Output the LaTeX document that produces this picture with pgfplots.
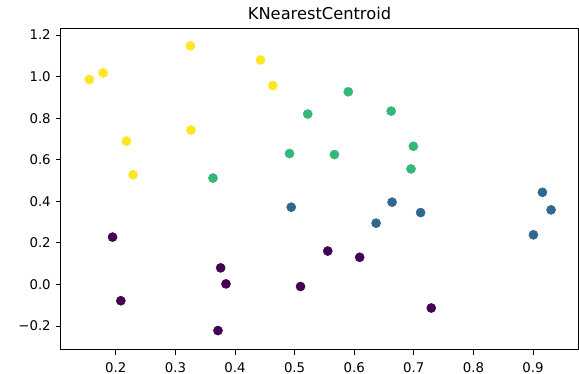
\documentclass[border=0pt]{standalone}
\usepackage{fontspec}
\setmainfont{DejaVu Sans}
\usepackage{pgfplots}
\pgfplotsset{compat=1.18}
\definecolor{vpurple}{HTML}{440154}
\definecolor{vblue}{HTML}{31688E}
\definecolor{vgreen}{HTML}{35B779}
\definecolor{vyellow}{HTML}{FDE725}
\begin{document}
\begin{tikzpicture}
\begin{axis}[
  scale only axis,
  width=387.75pt, height=240.75pt,
  xmin=0.108, xmax=0.9755,
  ymin=-0.315, ymax=1.229,
  axis line style={line width=0.75pt},
  tick style={line width=0.75pt, black},
  tick align=outside,
  major tick length=3.75pt,
  xtick={0.2,0.3,0.4,0.5,0.6,0.7,0.8,0.9},
  xticklabels={0.2,0.3,0.4,0.5,0.6,0.7,0.8,0.9},
  ytick={-0.2,0,0.2,0.4,0.6,0.8,1.0,1.2},
  yticklabels={−0.2,0.0,0.2,0.4,0.6,0.8,1.0,1.2},
  xtick pos=bottom, ytick pos=left,
  tick label style={font=\fontsize{10}{12}\selectfont, inner sep=0pt},
  xticklabel style={anchor=north, yshift=-5.25pt},
  yticklabel style={anchor=east, xshift=-3.75pt},
  title={KNearestCentroid},
  every axis title/.style={font=\fontsize{12.2}{14}\selectfont, at={(0.5,1)}, anchor=base, inner sep=0pt, yshift=6.75pt},
  every axis plot/.append style={only marks, mark=*, mark size=3.4pt},
]
\addplot[color=vyellow, mark options={fill=vyellow, draw=vyellow}] coordinates {
(0.1553,0.986) (0.1787,1.018) (0.3251,1.148) (0.2179,0.690) (0.229,0.528)
(0.3261,0.743) (0.4429,1.080) (0.4635,0.957)
};
\addplot[color=vgreen, mark options={fill=vgreen, draw=vgreen}] coordinates {
(0.363,0.512) (0.4915,0.630) (0.590,0.927) (0.522,0.820) (0.662,0.834)
(0.5668,0.625) (0.6992,0.665) (0.6953,0.556)
};
\addplot[color=vblue, mark options={fill=vblue, draw=vblue}] coordinates {
(0.4943,0.372) (0.6635,0.396) (0.6367,0.295) (0.7114,0.346)
(0.9158,0.4435) (0.9303,0.359) (0.9007,0.239)
};
\addplot[color=vpurple, mark options={fill=vpurple, draw=vpurple}] coordinates {
(0.1945,0.228) (0.2084,-0.078) (0.3759,0.080) (0.3848,0.003) (0.3714,-0.2215)
(0.5556,0.161) (0.6092,0.131) (0.5099,-0.0096) (0.7293,-0.113)
};
\end{axis}
\pgfresetboundingbox
\path ([shift={(-45.75pt,-18pt)}]current axis.south west) rectangle ([shift={(0.75pt,21.75pt)}]current axis.north east);
\end{tikzpicture}
\end{document}
